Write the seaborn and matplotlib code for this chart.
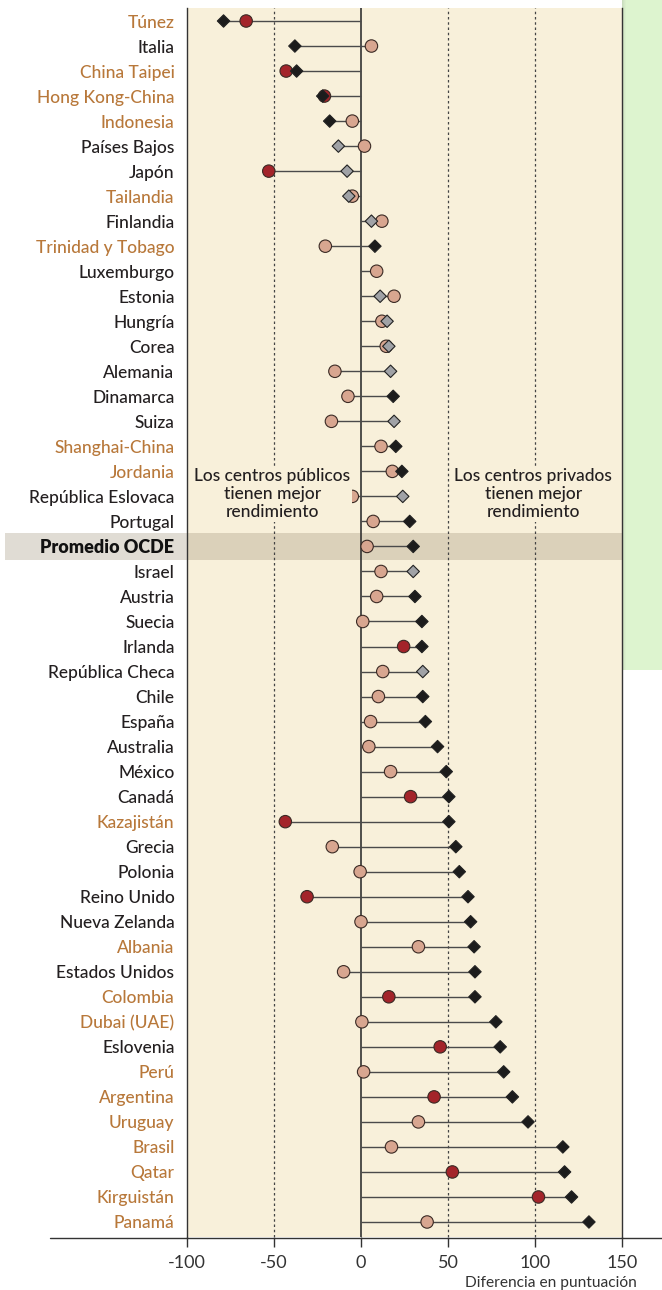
import numpy as np
import pandas as pd
import matplotlib
matplotlib.use("Agg")
import matplotlib.pyplot as plt
import matplotlib.transforms as mtransforms
from matplotlib.patches import Rectangle
from matplotlib.lines import Line2D
import seaborn as sns

countries = ["Túnez", "Italia", "China Taipei", "Hong Kong-China", "Indonesia",
             "Países Bajos", "Japón", "Tailandia", "Finlandia", "Trinidad y Tobago",
             "Luxemburgo", "Estonia", "Hungría", "Corea", "Alemania", "Dinamarca",
             "Suiza", "Shanghai-China", "Jordania", "República Eslovaca", "Portugal",
             "Promedio OCDE", "Israel", "Austria", "Suecia", "Irlanda",
             "República Checa", "Chile", "España", "Australia", "México", "Canadá",
             "Kazajistán", "Grecia", "Polonia", "Reino Unido", "Nueva Zelanda",
             "Albania", "Estados Unidos", "Colombia", "Dubai (UAE)", "Eslovenia",
             "Perú", "Argentina", "Uruguay", "Brasil", "Qatar", "Kirguistán", "Panamá"]

partner = [1, 0, 1, 1, 1,
           0, 0, 1, 0, 1,
           0, 0, 0, 0, 0, 0,
           0, 1, 1, 0, 0,
           0, 0, 0, 0, 0,
           0, 0, 0, 0, 0, 0,
           1, 0, 0, 0, 0,
           1, 0, 1, 1, 0,
           1, 1, 1, 1, 1, 1, 1]

# Difference before accounting for socio-economic background (diamonds)
diff_before = [-79, -38, -37, -22, -18,
               -13, -8, -7, 6, 8,
               np.nan, 11, 15, 16, 17, 18.5,
               19, 20, 23.5, 24, 28,
               30, 30, 31, 35, 35,
               35.5, 35.5, 37, 44, 49, 50.5,
               50.5, 54.5, 56.5, 61.5, 63,
               65, 65.5, 65.5, 77.5, 80,
               82, 87, 96, 116, 117, 121, 131]
before_sig = [1, 1, 1, 1, 1,
              0, 0, 0, 0, 1,
              0, 0, 0, 0, 0, 1,
              0, 1, 1, 0, 1,
              1, 0, 1, 1, 1,
              0, 1, 1, 1, 1, 1,
              1, 1, 1, 1, 1,
              1, 1, 1, 1, 1,
              1, 1, 1, 1, 1, 1, 1]

# Difference after accounting for socio-economic background (circles)
diff_after = [-66, 6, -43, -21, -5,
              2, -53, -5, 12, -20.5,
              9, 19, 12, 14.5, -15, -7.5,
              -17, 11.5, 18, -5, 7,
              3.5, 11.5, 9, 1, 24.5,
              12.5, 10, 5.5, 4.5, 17, 28.5,
              -43.5, -16.5, -0.5, -31, 0,
              33, -10, 16, 0.5, 45.5,
              1.5, 42, 33, 17.5, 52.5, 102, 38]
after_sig = [1, 0, 1, 1, 0,
             0, 1, 0, 0, 0,
             0, 0, 0, 0, 0, 0,
             0, 0, 0, 0, 0,
             0, 0, 0, 0, 1,
             0, 0, 0, 0, 0, 1,
             1, 0, 0, 1, 0,
             0, 0, 1, 0, 1,
             0, 1, 0, 0, 1, 1, 0]

xticks = [-100, -50, 0, 50, 100, 150]
xtick_labels = ["-100", "-50", "0", "50", "100", "150"]

BG = "#f8f0da"
ORANGE = "#b8783a"
DARK = "#231f20"

sns.set_theme(style="white")
plt.rcParams['font.family'] = ['Lato', 'DejaVu Sans']

n = len(countries)
rows = np.arange(n)
df = pd.DataFrame({"country": countries, "row": rows,
                   "before": diff_before, "before_sig": before_sig,
                   "after": diff_after, "after_sig": after_sig})

W, H = 662, 1290
fig = plt.figure(figsize=(W / 100, H / 100), dpi=100)

# green side panel with soft shadow edge
fig.add_artist(Rectangle((622 / W, 1 - 670 / H), 40 / W, 670 / H,
                         transform=fig.transFigure, facecolor="#ddf4cf",
                         edgecolor="none", zorder=-2))
for i, a in enumerate([0.18, 0.12, 0.07, 0.035]):
    fig.add_artist(Rectangle(((622 + i) / W, 1 - 670 / H), 1 / W, 670 / H,
                             transform=fig.transFigure, facecolor="#707070",
                             alpha=a, edgecolor="none", zorder=-1))

ax = fig.add_axes([187 / W, 1 - 1237 / H, 435 / W, (1237 - 8) / H])
ax.set_facecolor(BG)

# OECD average band
trans = mtransforms.blended_transform_factory(ax.transAxes, ax.transData)
oecd = countries.index("Promedio OCDE")
ax.add_patch(Rectangle((-182 / 435, oecd - 0.54), 617 / 435, 1.08, transform=trans,
                       facecolor=(0.6, 0.55, 0.45), alpha=0.3, edgecolor="none",
                       clip_on=False, zorder=0.5))

# reference lines
ax.axvline(0, color="#333333", lw=1.2, zorder=1.5)
for xv in [-50, 50, 100]:
    ax.axvline(xv, color="#444444", lw=0.9, ls=(0, (2, 2.2)), zorder=1)

# connecting lines
lo = np.nanmin(np.vstack([df["before"], df["after"], np.zeros(n)]), axis=0)
hi = np.nanmax(np.vstack([df["before"], df["after"], np.zeros(n)]), axis=0)
ax.hlines(df["row"], lo, hi, color="#4a4a4a", lw=1.0, zorder=2)

# markers
sns.scatterplot(data=df, x="after", y="row", hue="after_sig",
                palette={1: "#a3242a", 0: "#d8a690"}, marker="o", s=80,
                edgecolor="#3a2a24", linewidth=0.8, legend=False, ax=ax, zorder=3)
sns.scatterplot(data=df.dropna(subset=["before"]), x="before", y="row", hue="before_sig",
                palette={1: "#1c1c1c", 0: "#a0a2a6"}, marker="D", s=40,
                edgecolor="#222222", linewidth=0.8, legend=False, ax=ax, zorder=4)

ax.set_xlim(-100, 150)
ax.set_ylim(n - 1 + 0.6, -0.52)
ax.set_xlabel("")
ax.set_ylabel("")

ax.set_yticks(rows)
ax.set_yticklabels(countries, fontsize=12.5, fontweight="medium")
ax.tick_params(axis="y", length=0, pad=9)
for lab, p, c in zip(ax.get_yticklabels(), partner, countries):
    lab.set_color(ORANGE if p else DARK)
    if c == "Promedio OCDE":
        lab.set_fontweight("heavy")
        lab.set_fontsize(13)
        lab.set_color("#111111")

ax.set_xticks(xticks)
ax.set_xticklabels(xtick_labels, fontsize=13, color="#333333")
ax.tick_params(axis="x", bottom=True, length=7, width=1, color="#333333",
               direction="out", pad=6)

for s in ["top", "bottom"]:
    ax.spines[s].set_visible(False)
for s in ["left", "right"]:
    ax.spines[s].set_color("#333333")
    ax.spines[s].set_linewidth(1.0)

# bottom axis line
yb = 1 - 1238 / H
fig.add_artist(Line2D([50 / W, 1], [yb, yb], transform=fig.transFigure,
                      color="#333333", lw=1.0))

# annotations
ax.text(-51, 18.9, "Los centros públicos\ntienen mejor\nrendimiento",
        ha="center", va="center", fontsize=12.5, fontweight="medium", color=DARK,
        linespacing=1.15, bbox=dict(facecolor=BG, edgecolor="none", pad=1.5), zorder=5)
ax.text(99, 18.9, "Los centros privados\ntienen mejor\nrendimiento",
        ha="center", va="center", fontsize=12.5, fontweight="medium", color=DARK,
        linespacing=1.15, bbox=dict(facecolor=BG, edgecolor="none", pad=1.5), zorder=5)

fig.text(637 / W, 1 - 1283 / H, "Diferencia en puntuación", ha="right", va="center",
         fontsize=11.2, color="#333333")

fig.savefig("out.png", dpi=100)
